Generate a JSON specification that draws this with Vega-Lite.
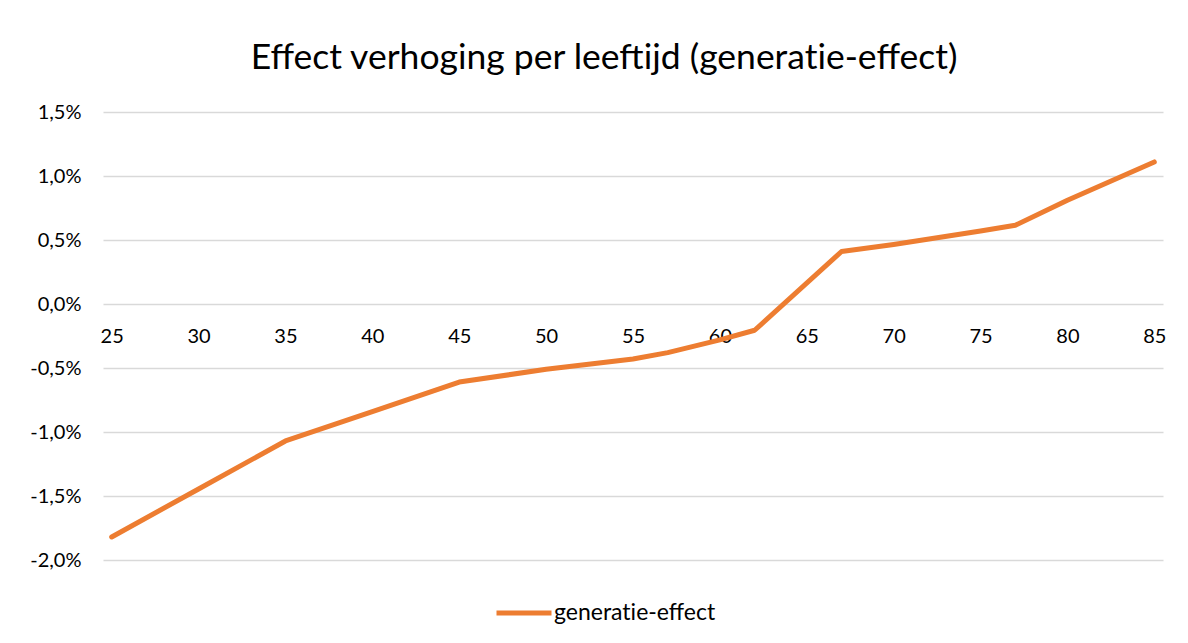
{
  "$schema": "https://vega.github.io/schema/vega-lite/v6.json",
  "width": 1060,
  "height": 448,
  "autosize": {"type": "none"},
  "padding": {"left": 103, "top": 112, "right": 25, "bottom": 83},
  "background": "white",
  "config": {
    "locale": {"number": {"decimal": ",", "thousands": ".", "grouping": [3], "currency": ["€", ""], "minus": "-"}},
    "view": {"stroke": null},
    "font": "Lato"
  },
  "title": {
    "text": "Effect verhoging per leeftijd (generat‌ie-effect)",
    "font": "Lato",
    "fontSize": 35.5,
    "fontWeight": "normal",
    "color": "#000000",
    "anchor": "middle",
    "frame": "group",
    "baseline": "alphabetic",
    "offset": -2,
    "dx": -29
  },
  "data": {
    "values": [
      {"leeftijd": 25, "effect": -0.0182, "reeks": "generat‌ie-effect"},
      {"leeftijd": 30, "effect": -0.01445, "reeks": "generat‌ie-effect"},
      {"leeftijd": 35, "effect": -0.0107, "reeks": "generat‌ie-effect"},
      {"leeftijd": 40, "effect": -0.0084, "reeks": "generat‌ie-effect"},
      {"leeftijd": 45, "effect": -0.0061, "reeks": "generat‌ie-effect"},
      {"leeftijd": 50, "effect": -0.0051, "reeks": "generat‌ie-effect"},
      {"leeftijd": 55, "effect": -0.0043, "reeks": "generat‌ie-effect"},
      {"leeftijd": 57, "effect": -0.0038, "reeks": "generat‌ie-effect"},
      {"leeftijd": 60, "effect": -0.0028, "reeks": "generat‌ie-effect"},
      {"leeftijd": 62, "effect": -0.00205, "reeks": "generat‌ie-effect"},
      {"leeftijd": 67, "effect": 0.0041, "reeks": "generat‌ie-effect"},
      {"leeftijd": 70, "effect": 0.00465, "reeks": "generat‌ie-effect"},
      {"leeftijd": 75, "effect": 0.0057, "reeks": "generat‌ie-effect"},
      {"leeftijd": 77, "effect": 0.00615, "reeks": "generat‌ie-effect"},
      {"leeftijd": 80, "effect": 0.0081, "reeks": "generat‌ie-effect"},
      {"leeftijd": 85, "effect": 0.0111, "reeks": "generat‌ie-effect"}
    ]
  },
  "mark": {"type": "line", "strokeWidth": 5, "strokeCap": "round", "strokeJoin": "round"},
  "encoding": {
    "x": {
      "field": "leeftijd",
      "type": "quantitative",
      "scale": {"domain": [24.5, 85.5], "nice": false, "zero": false},
      "axis": {
        "title": null,
        "values": [25, 30, 35, 40, 45, 50, 55, 60, 65, 70, 75, 80, 85],
        "grid": false,
        "domain": false,
        "ticks": false,
        "offset": -256,
        "labelPadding": 22,
        "labelFont": "Lato",
        "labelFontSize": 20,
        "labelColor": "#000000",
        "labelFlush": false,
        "labelOverlap": false
      }
    },
    "y": {
      "field": "effect",
      "type": "quantitative",
      "scale": {"domain": [-0.02, 0.015], "nice": false, "zero": false},
      "axis": {
        "title": null,
        "values": [-0.02, -0.015, -0.01, -0.005, 0, 0.005, 0.01, 0.015],
        "format": ".1%",
        "domain": false,
        "ticks": false,
        "labelPadding": 22,
        "labelFont": "Lato",
        "labelFontSize": 20,
        "labelColor": "#000000",
        "gridColor": "#d9d9d9",
        "gridWidth": 1.5
      }
    },
    "color": {
      "field": "reeks",
      "type": "nominal",
      "scale": {"range": ["#ED7D31"]},
      "legend": {
        "title": null,
        "orient": "none",
        "legendX": 391,
        "legendY": 471,
        "symbolType": "stroke",
        "symbolSize": 3025,
        "symbolStrokeWidth": 5,
        "labelFont": "Lato",
        "labelFontSize": 23,
        "labelColor": "#000000",
        "labelOffset": 0,
        "labelLimit": 300
      }
    }
  }
}
